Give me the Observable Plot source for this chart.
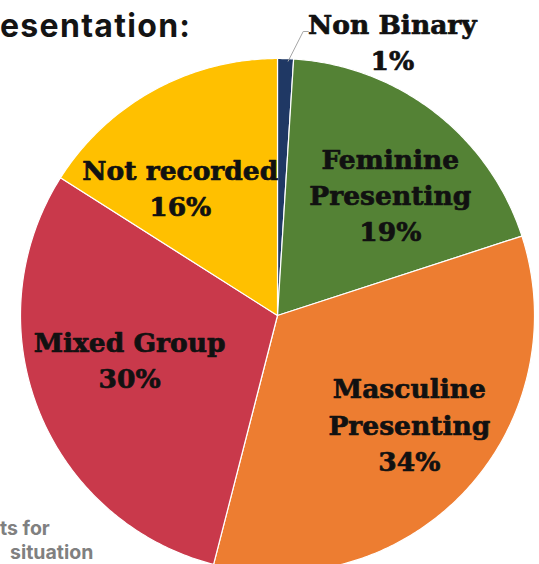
<!DOCTYPE html>
<html>
<head>
<meta charset="utf-8">
<script src="https://cdn.jsdelivr.net/npm/d3@7"></script>
<script src="https://cdn.jsdelivr.net/npm/@observablehq/plot@0.6"></script>
<style>
  html, body { margin: 0; padding: 0; background: #fff; }
  #wrap { position: relative; width: 539px; height: 564px; overflow: hidden; }
  #title { position: absolute; left: 0; top: 10px; font: 700 32px/1 Inter, "Open Sans", sans-serif; color: #141414; white-space: nowrap; letter-spacing: 1.3px; }
  #caption { position: absolute; left: 0; top: 517px; font: 700 19.5px/23.5px Inter, "Open Sans", sans-serif; color: #808080; white-space: nowrap; }
  #caption .l2 { padding-left: 10px; }
  #chart { position: absolute; left: 0; top: 0; }
</style>
</head>
<body>
<div id="wrap">
  <div id="chart"></div>
  <div id="title">esentation:</div>
  <div id="caption">ts for<br><span class="l2">situation</span></div>
</div>
<script>
// ---- data ----
const categories = ["Non Binary", "Feminine Presenting", "Masculine Presenting", "Mixed Group", "Not recorded"];
const labelText = ["Non Binary", "Feminine\nPresenting", "Masculine\nPresenting", "Mixed Group", "Not recorded"];
const values = [1, 19, 34, 30, 16];
const colors = ["#1f3864", "#548235", "#ed7d31", "#c9394b", "#ffc000"];

// ---- layout (pixel nudges for the labels, not data) ----
const R = 257;
const labelNudge = [[0, 0], [12, 8], [12, -5], [5, -18], [-18, 15]];

// ---- geometry (unit circle, clockwise from 12 o'clock) ----
const total = d3.sum(values);
let acc = 0;
const slices = categories.map((name, i) => {
  const a0 = acc / total * 2 * Math.PI;
  acc += values[i];
  const a1 = acc / total * 2 * Math.PI;
  return {name, i, label: labelText[i], value: values[i], a0, a1, mid: (a0 + a1) / 2};
});
const pt = (a, r) => [r * Math.sin(a), r * Math.cos(a)];

const features = slices.map(s => {
  const n = Math.max(4, Math.ceil((s.a1 - s.a0) / 0.01));
  const ring = [[0, 0]];
  for (let k = 0; k <= n; k++) ring.push(pt(s.a0 + (s.a1 - s.a0) * k / n, 1));
  ring.push([0, 0]);
  return {type: "Feature", properties: {name: s.name}, geometry: {type: "Polygon", coordinates: [ring]}};
});

const inner = slices.filter(s => s.value >= 5).map(s => {
  const [x, y] = pt(s.mid, 0.64);
  const [dx, dy] = labelNudge[s.i];
  return {x: x + dx / R, y: y - dy / R, text: `${s.label}\n${s.value}%`};
});
const small = slices.filter(s => s.value < 5);
const outerLabels = small.map(s => ({x: 0.447, y: 1.07, text: `${s.label}\n${s.value}%`}));
const leader = small.flatMap(s => [
  {x: pt(s.mid, 1)[0] + 0.01, y: pt(s.mid, 1)[1] - 0.01},
  {x: 0.10, y: 1.105},
  {x: 0.12, y: 1.105}
]);

const labelFont = {fontFamily: "DejaVu Serif, serif", fontWeight: 700, fontSize: 26.5, lineHeight: 1.37, fill: "#111", stroke: "#111", strokeWidth: 0.7};

const chart = Plot.plot({
  width: 539,
  height: 564,
  marginLeft: 20,
  marginTop: 58,
  marginRight: 5,
  marginBottom: -8,
  projection: {type: "reflect-y", clip: false, domain: {type: "MultiPoint", coordinates: [[-1, -1], [1, 1]]}},
  color: {domain: categories, range: colors},
  marks: [
    Plot.geo(features, {fill: d => d.properties.name, stroke: "white", strokeWidth: 1.2}),
    Plot.line(leader, {x: "x", y: "y", stroke: "#a6a6a6", strokeWidth: 1}),
    Plot.text(inner, {x: "x", y: "y", text: "text", ...labelFont}),
    Plot.text(outerLabels, {x: "x", y: "y", text: "text", ...labelFont})
  ]
});
document.getElementById("chart").appendChild(chart);
</script>
</body>
</html>
